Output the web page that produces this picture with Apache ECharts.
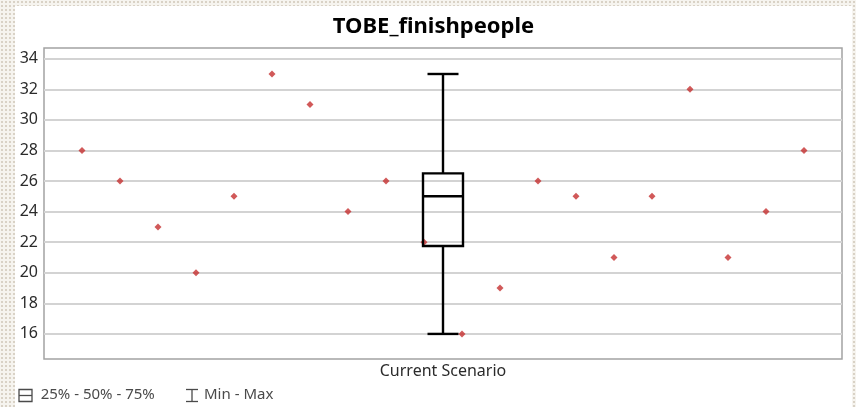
<!DOCTYPE html>
<html>
<head>
<meta charset="utf-8">
<script src="https://cdn.jsdelivr.net/npm/echarts@6/dist/echarts.min.js"></script>
<style>
  html, body { margin: 0; padding: 0; width: 856px; height: 407px; overflow: hidden; }
  body {
    background-color: #f6f4ef;
    background-image: radial-gradient(#d9d2c6 0.8px, transparent 0.9px);
    background-size: 4px 4px;
    position: relative;
  }
  #chart { position: absolute; left: 15px; top: 6px; width: 837px; height: 401px; background: #ffffff; }
</style>
</head>
<body>
<div id="chart"></div>
<script>
// ---- data ----
const chartTitle = 'TOBE_finishpeople';
const categories = ['Current Scenario'];
const observations = [28, 26, 23, 20, 25, 33, 31, 24, 26, 22, 16, 19, 26, 25, 21, 25, 32, 21, 24, 28];
// box statistics: min, Q1, median, Q3, max
const boxStats = [16, 21.75, 25, 26.5, 33];
const yTicks = [16, 18, 20, 22, 24, 26, 28, 30, 32, 34];
const yMin = 14.36;
const yMax = 34.7;
const legendLabels = ['25% - 50% - 75%', 'Min - Max'];

const FONT = '"Noto Sans", "DejaVu Sans", sans-serif';

const chart = echarts.init(document.getElementById('chart'), null, { renderer: 'canvas' });

const scatterData = observations.map((v, i) => [i + 1, v]);

const option = {
  animation: false,
  backgroundColor: '#ffffff',
  title: {
    text: chartTitle,
    left: 'center',
    top: 5,
    textStyle: { fontFamily: FONT, fontSize: 22, fontWeight: 'bold', color: '#000000' }
  },
  grid: {
    left: 29, right: 10, top: 42, bottom: 48,
    show: true,
    borderColor: '#a3a3a3',
    borderWidth: 1.5,
    backgroundColor: 'transparent'
  },
  xAxis: [
    {
      type: 'category',
      data: categories,
      axisLine: { show: false },
      axisTick: { show: false },
      splitLine: { show: false },
      axisLabel: { fontFamily: FONT, fontSize: 16, color: '#2b2b2b', margin: 4 }
    },
    {
      type: 'value',
      min: 0,
      max: observations.length + 1,
      show: false,
      position: 'bottom'
    }
  ],
  yAxis: {
    type: 'value',
    min: yMin,
    max: yMax,
    axisLine: { show: false },
    axisTick: { show: false, customValues: yTicks },
    axisLabel: { customValues: yTicks, fontFamily: FONT, fontSize: 16, color: '#2b2b2b', margin: 6 },
    splitLine: { show: true, lineStyle: { color: '#d3d3d3', width: 2 } }
  },
  series: [
    {
      type: 'scatter',
      xAxisIndex: 1,
      data: scatterData,
      symbol: 'diamond',
      symbolSize: 7,
      itemStyle: { color: '#c53030' },
      z: 2
    },
    {
      type: 'custom',
      xAxisIndex: 0,
      data: [[0].concat(boxStats)],
      z: 3,
      renderItem: function (params, api) {
        const c = api.value(0);
        const pMin = api.coord([c, api.value(1)]);
        const pQ1 = api.coord([c, api.value(2)]);
        const pMed = api.coord([c, api.value(3)]);
        const pQ3 = api.coord([c, api.value(4)]);
        const pMax = api.coord([c, api.value(5)]);
        const cx = Math.round(pMed[0]);
        const hw = 20, cw = 15.5;
        const st = { stroke: '#000000', lineWidth: 2.4, fill: null };
        return {
          type: 'group',
          children: [
            { type: 'line', shape: { x1: cx, y1: pMax[1], x2: cx, y2: pQ3[1] }, style: st },
            { type: 'line', shape: { x1: cx, y1: pQ1[1], x2: cx, y2: pMin[1] }, style: st },
            { type: 'line', shape: { x1: cx - cw, y1: pMax[1], x2: cx + cw, y2: pMax[1] }, style: st },
            { type: 'line', shape: { x1: cx - cw, y1: pMin[1], x2: cx + cw, y2: pMin[1] }, style: st },
            { type: 'rect', shape: { x: cx - hw, y: pQ3[1], width: hw * 2, height: pQ1[1] - pQ3[1] }, style: st },
            { type: 'line', shape: { x1: cx - hw, y1: pMed[1], x2: cx + hw, y2: pMed[1] }, style: st }
          ]
        };
      }
    }
  ],
  graphic: [
    { type: 'rect', shape: { x: 4, y: 383.5, width: 13, height: 12 }, style: { fill: null, stroke: '#4a4a4a', lineWidth: 1.3 } },
    { type: 'line', shape: { x1: 4, y1: 389.5, x2: 17, y2: 389.5 }, style: { stroke: '#4a4a4a', lineWidth: 1.3 } },
    { type: 'text', x: 25.7, y: 389, style: { text: legendLabels[0], fontFamily: FONT, fontSize: 15, fill: '#4a4a4a', verticalAlign: 'middle', align: 'left' } },
    { type: 'line', shape: { x1: 177, y1: 383.5, x2: 177, y2: 395.5 }, style: { stroke: '#4a4a4a', lineWidth: 1.3 } },
    { type: 'line', shape: { x1: 171, y1: 383.5, x2: 183, y2: 383.5 }, style: { stroke: '#4a4a4a', lineWidth: 1.3 } },
    { type: 'line', shape: { x1: 171, y1: 395.5, x2: 183, y2: 395.5 }, style: { stroke: '#4a4a4a', lineWidth: 1.3 } },
    { type: 'text', x: 189, y: 389, style: { text: legendLabels[1], fontFamily: FONT, fontSize: 15, fill: '#4a4a4a', verticalAlign: 'middle', align: 'left' } }
  ]
};

chart.setOption(option);
</script>
</body>
</html>
